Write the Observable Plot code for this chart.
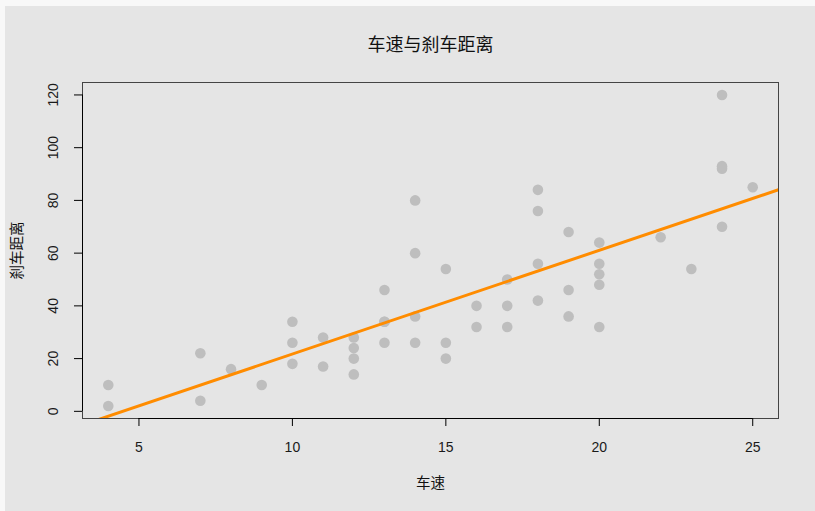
<!DOCTYPE html>
<html>
<head>
<meta charset="utf-8">
<script src="https://cdn.jsdelivr.net/npm/d3@7"></script>
<script src="https://cdn.jsdelivr.net/npm/@observablehq/plot@0.6"></script>
<style>
  html, body { margin: 0; padding: 0; background: #f8f8f8; }
  #panel { position: absolute; left: 5px; top: 6px; width: 810px; height: 505px; background: #e5e5e5; }
</style>
</head>
<body>
<div id="panel"></div>
<script>
// R "cars" data
const speed = [4,4,7,7,8,9,10,10,10,11,11,12,12,12,12,13,13,13,13,14,14,14,14,15,15,15,16,16,17,17,17,18,18,18,18,19,19,19,20,20,20,20,20,22,23,24,24,24,24,25];
const dist  = [2,10,4,22,16,10,18,26,34,17,28,14,20,24,28,26,34,34,46,26,36,60,80,20,26,54,32,40,32,40,50,42,56,76,84,36,46,68,32,48,52,56,64,66,54,70,92,93,120,85];
const xTicks = [5, 10, 15, 20, 25];
const yTicks = [0, 20, 40, 60, 80, 100, 120];
const title = "车速与刹车距离";
const xLabel = "车速";
const yLabel = "刹车距离";

const points = speed.map((s, i) => ({speed: s, dist: dist[i]}));

// R-style 4% axis extension
const ext = (arr) => { const [a, b] = d3.extent(arr); const p = (b - a) * 0.04; return [a - p, b + p]; };
const xDom = ext(speed), yDom = ext(dist);

// least-squares fit (abline of lm(dist ~ speed))
const mx = d3.mean(speed), my = d3.mean(dist);
const slope = d3.sum(speed, (s, i) => (s - mx) * (dist[i] - my)) / d3.sum(speed, s => (s - mx) ** 2);
const intercept = my - slope * mx;
const fitLine = xDom.map(x => ({speed: x, dist: intercept + slope * x}));

const numFont = "Liberation Sans, Arial, sans-serif";
const cjkFont = "Noto Sans CJK SC, sans-serif";

const chart = Plot.plot({
  width: 810, height: 505,
  marginLeft: 77, marginRight: 37, marginTop: 76, marginBottom: 93,
  style: {background: "#e5e5e5", fontFamily: numFont, color: "#1a1a1a", overflow: "visible"},
  x: {domain: xDom},
  y: {domain: yDom},
  marks: [
    Plot.dot(points, {x: "speed", y: "dist", r: 5.3, fill: "#bebebe", stroke: "none"}),
    Plot.line(fitLine, {x: "speed", y: "dist", stroke: "#ff8c00", strokeWidth: 3, clip: true}),
    Plot.frame({stroke: "#444"}),
    Plot.ruleY([yDom[0]], {x1: xTicks[0], x2: xTicks[xTicks.length - 1], stroke: "#000"}),
    Plot.ruleX([xDom[0]], {y1: yTicks[0], y2: yTicks[yTicks.length - 1], stroke: "#000"}),
    Plot.axisX({ticks: xTicks, tickSize: 8, tickFormat: () => "", label: null, stroke: "#000"}),
    Plot.axisY({ticks: yTicks, tickSize: 8, tickFormat: () => "", label: null, stroke: "#000"}),
    Plot.text(xTicks, {x: d => d, text: d => String(d), frameAnchor: "bottom", dy: 29,
      fontSize: 14, textAnchor: "middle", lineAnchor: "middle", fontFamily: numFont, fill: "#1a1a1a"}),
    Plot.text(yTicks, {y: d => d, text: d => String(d), frameAnchor: "left", rotate: -90, dx: -29,
      fontSize: 14, textAnchor: "middle", lineAnchor: "middle", fontFamily: numFont, fill: "#1a1a1a"}),
    Plot.text([title], {frameAnchor: "top", dy: -37, fontSize: 18, lineAnchor: "middle", fontFamily: cjkFont, fill: "#111"}),
    Plot.text([xLabel], {frameAnchor: "bottom", dy: 65, fontSize: 14.5, lineAnchor: "middle", fontFamily: cjkFont, fill: "#111"}),
    Plot.text([yLabel], {frameAnchor: "left", dx: -65, rotate: -90, fontSize: 14.5, textAnchor: "middle", lineAnchor: "middle", fontFamily: cjkFont, fill: "#111"})
  ]
});
document.getElementById("panel").appendChild(chart);
</script>
</body>
</html>
